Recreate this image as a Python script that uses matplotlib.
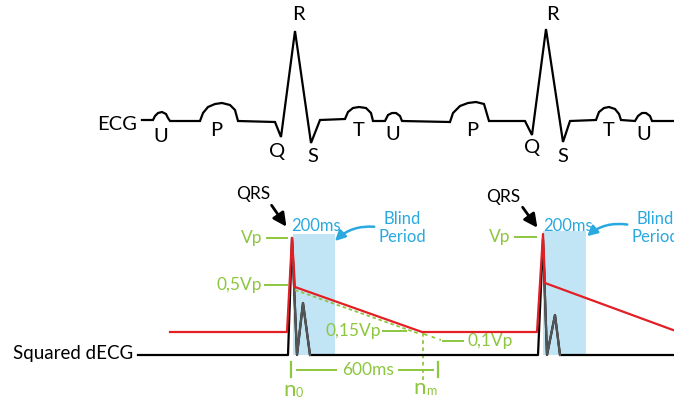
import matplotlib.pyplot as plt
from matplotlib.patches import Rectangle

plt.rcParams['font.family'] = ['Lato', 'DejaVu Sans']

GREEN = '#8dc63f'
BLUE = '#29a9e0'
SHADE = '#c2e5f5'
RED = '#e31e24'

# ECG trace (picture coordinates, y grows downwards)
ecg_x = [142, 153, 155, 158, 162, 166, 168, 170, 200, 203, 208, 215, 222, 230, 235, 238, 275, 281, 295,
         311, 320, 345, 348, 353, 359, 366, 371, 373, 385, 388, 392, 396, 400, 402, 450, 453, 460,
         468, 476, 484, 489, 525, 532, 546, 563, 570, 596, 599, 604, 609, 615, 619, 621, 635, 638,
         642, 646, 650, 652, 674]
ecg_y = [120, 120, 116, 113, 112, 114, 118, 121, 121, 113, 107, 104, 103, 105, 110, 121, 122, 137, 31,
         143, 120, 119, 112, 108, 107, 108, 113, 121, 121, 115, 113, 113, 116, 121, 122, 113, 106,
         103, 102, 104, 121, 121, 135, 29, 142, 121, 120, 112, 108, 107, 109, 114, 120, 121, 116,
         113, 113, 116, 121, 121]
wave_labels = ['U', 'P', 'Q', 'R', 'S', 'T', 'U', 'P', 'Q', 'R', 'S', 'T', 'U']
wave_x = [161, 216, 277, 298, 313, 359, 393, 472, 532, 552, 563, 609, 644]
wave_y = [136, 131, 151, 15, 157, 131, 135, 131, 148, 15, 157, 131, 135]

# squared dECG
sq_x = [138, 288, 292, 297, 303, 310, 538, 543, 547, 555, 560, 674]
sq_y = [355, 355, 238, 355, 303, 355, 355, 240, 355, 315, 355, 355]
# gray part (after each peak)
gray_segments = [(2, 5), (7, 10)]

# adaptive threshold
thr_x = [170, 287, 292, 295, 422, 537, 543, 545, 673]
thr_y = [332, 332, 238, 287, 332, 332, 234, 283, 330]

# blind periods (x0, x1, top)
blind_x0 = [293, 543]
blind_x1 = [335, 586]
blind_top = [234, 231]
base_y = 355

fig = plt.figure(figsize=(6.74, 4.03), dpi=100)
ax = fig.add_axes([0, 0, 1, 1])
ax.set_xlim(0, 674)
ax.set_ylim(403, 0)
ax.axis('off')

# top ECG
ax.plot(ecg_x, ecg_y, color='black', lw=1.6, solid_joinstyle='miter', zorder=3)
ax.text(117, 124, 'ECG', fontsize=14.5, ha='center', va='center')
for lab, x, y in zip(wave_labels, wave_x, wave_y):
    ax.text(x, y, lab, fontsize=14.5, ha='center', va='center')

# blind period shading
for x0, x1, top in zip(blind_x0, blind_x1, blind_top):
    ax.add_patch(Rectangle((x0, top), x1 - x0, base_y - top, color=SHADE, lw=0, zorder=1))

# squared dECG
ax.plot(sq_x, sq_y, color='black', lw=1.6, zorder=3)
for a, b in gray_segments:
    ax.plot(sq_x[a:b + 1], sq_y[a:b + 1], color='#555555', lw=1.6, zorder=3.5)
ax.text(13, 354, 'Squared dECG', fontsize=13.5, ha='left', va='center')

# threshold
ax.plot(thr_x, thr_y, color=RED, lw=1.6, zorder=4)

# green annotations
ax.plot([295, 420], [290, 334], color=GREEN, lw=1.3, ls=(0, (2, 1.5)), zorder=3.8)
ax.plot([424, 441], [334, 340], color=GREEN, lw=1.3, ls=(0, (2, 2.5)))
ax.plot([423, 423], [333, 382], color=GREEN, lw=1.3, ls=(0, (2, 2)))
for y, x0, x1, tx, lab in [(238, 267, 287, 262, 'Vp'), (285, 265, 287, 262, '0,5Vp'),
                           (331, 383, 406, 381, '0,15Vp'), (237, 515, 536, 510, 'Vp')]:
    ax.plot([x0, x1], [y, y], color=GREEN, lw=1.4)
    ax.text(tx, y, lab, color=GREEN, fontsize=12.5, ha='right', va='center')
ax.plot([443, 463], [341, 341], color=GREEN, lw=1.4)
ax.text(467, 341, '0,1Vp', color=GREEN, fontsize=12.5, ha='left', va='center')

# 600 ms span
ax.plot([291, 291], [362, 377], color=GREEN, lw=1.6)
ax.plot([438, 438], [362, 377], color=GREEN, lw=1.6)
ax.plot([297, 336], [370, 370], color=GREEN, lw=1.4)
ax.plot([399, 433], [370, 370], color=GREEN, lw=1.4)
ax.text(368, 370, '600ms', color=GREEN, fontsize=12.5, ha='center', va='center')
ax.text(290, 390, 'n', color=GREEN, fontsize=16, ha='center', va='center')
ax.text(299, 393, '0', color=GREEN, fontsize=9, ha='center', va='center')
ax.text(420, 388, 'n', color=GREEN, fontsize=16, ha='center', va='center')
ax.text(431, 391, 'm', color=GREEN, fontsize=9, ha='center', va='center')

# QRS arrows
for tx, ty, sx, sy, ex, ey in [(253, 194, 270, 203, 288, 229), (503, 197, 521, 205, 539, 230)]:
    ax.text(tx, ty, 'QRS', fontsize=12.5, ha='center', va='center')
    ax.annotate('', xy=(ex, ey), xytext=(sx, sy),
                arrowprops=dict(arrowstyle='-|>,head_length=0.8,head_width=0.4', color='black', lw=2.0))

# blind period labels and arrows
for cx, t200, sx, sy, ex, ey in [(402, 316, 377, 227, 333, 243), (655, 568, 630, 225, 585, 238)]:
    ax.text(t200, 226, '200ms', color=BLUE, fontsize=12, ha='center', va='center')
    ax.text(cx, 228, 'Blind\nPeriod', color=BLUE, fontsize=12, ha='center', va='center', linespacing=1.2)
    ax.annotate('', xy=(ex, ey), xytext=(sx, sy),
                arrowprops=dict(arrowstyle='-|>,head_length=0.6,head_width=0.3', color=BLUE, lw=1.8,
                                connectionstyle='arc3,rad=0.25'))

fig.savefig('out.png', dpi=100)
plt.close()
